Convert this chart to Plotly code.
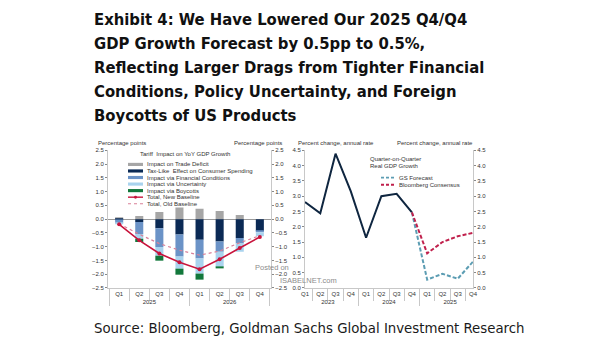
import plotly.graph_objects as go

W, H = 605, 341

# ---- data -------------------------------------------------------------
quarters = ["Q1", "Q2", "Q3", "Q4"]

# Tariff impact on YoY GDP growth (percentage points)
tariff_years = ["2025"] * 4 + ["2026"] * 4
tariff_qtrs = quarters * 2
trade_deficit = [0.04, 0.11, 0.26, 0.42, 0.38, 0.30, 0.15, 0.0]
tax_like = [-0.01, -0.10, -0.33, -0.56, -0.75, -0.81, -0.69, -0.44]
financial = [-0.14, -0.44, -0.68, -0.80, -0.68, -0.38, -0.20, -0.04]
uncertainty = [-0.03, -0.17, -0.32, -0.44, -0.55, -0.54, -0.30, -0.14]
boycotts = [0.0, -0.12, -0.18, -0.22, -0.22, -0.06, 0.0, 0.0]
total_new = [-0.19, -0.77, -1.25, -1.57, -1.82, -1.46, -1.05, -0.65]
total_old = [-0.17, -0.55, -0.89, -1.13, -1.31, -1.16, -0.86, -0.60]

# Quarter-on-quarter real GDP growth (percent change, annual rate)
gdp_years = ["2023"] * 4 + ["2024"] * 4
gdp_qtrs = quarters * 2
gdp_actual = [2.81, 2.44, 4.39, 3.16, 1.64, 3.00, 3.08, 2.47]
fc_years = ["2024"] + ["2025"] * 4
fc_qtrs = ["Q4"] + quarters
gs_forecast = [2.47, 0.27, 0.46, 0.30, 0.86]
bbg_consensus = [2.47, 1.13, 1.50, 1.69, 1.80]

# ---- styling ----------------------------------------------------------
C_GRAY = "#a6a6a6"
C_NAVY = "#0b2a55"
C_FIN = "#6b93c7"
C_UNC = "#a9d3ee"
C_BOY = "#12783b"
C_NEW = "#c8143c"
C_OLD = "#d98098"
C_ACT = "#0f2640"
C_GS = "#5c9db3"
C_BBG = "#c0204c"
AXC = "#c8c8c8"
TXT = "#333333"
SMALL = "Liberation Sans"
HEAD = "DejaVu Sans Condensed"


def px(x):
    return x / W


def py(y):
    return 1 - y / H


fig = go.Figure()

xl = [tariff_years, tariff_qtrs]
bar_series = [
    ("Impact on Trade Deficit", trade_deficit, C_GRAY),
    ("Tax-Like Effect on Consumer Spending", tax_like, C_NAVY),
    ("Impact via Financial Conditions", financial, C_FIN),
    ("Impact via Uncertainty", uncertainty, C_UNC),
    ("Impact via Boycotts", boycotts, C_BOY),
]
for name, vals, col in bar_series:
    fig.add_trace(go.Bar(x=xl, y=vals, name=name, marker=dict(color=col, line=dict(width=0)),
                         xaxis="x", yaxis="y", showlegend=False))

fig.add_trace(go.Scatter(x=xl, y=total_old, mode="lines", name="Total, Old Baseline",
                         line=dict(color=C_OLD, width=1.2, dash="dot"),
                         xaxis="x", yaxis="y", showlegend=False))
fig.add_trace(go.Scatter(x=xl, y=total_new, mode="lines+markers", name="Total, New Baseline",
                         line=dict(color=C_NEW, width=1.6), marker=dict(size=4, color=C_NEW),
                         xaxis="x", yaxis="y", showlegend=False))
# right-hand mirror scale of the tariff panel
fig.add_trace(go.Scatter(x=xl, y=total_new, mode="lines", line=dict(width=0),
                         hoverinfo="skip", opacity=0, xaxis="x", yaxis="y2", showlegend=False))

xr = [gdp_years, gdp_qtrs]
xf = [fc_years, fc_qtrs]
fig.add_trace(go.Scatter(x=xr, y=gdp_actual, mode="lines", name="Actual",
                         line=dict(color=C_ACT, width=2), xaxis="x2", yaxis="y3", showlegend=False))
fig.add_trace(go.Scatter(x=xf, y=gs_forecast, mode="lines", name="GS Forecast",
                         line=dict(color=C_GS, width=2, dash="4px,2px"),
                         xaxis="x2", yaxis="y3", showlegend=False))
fig.add_trace(go.Scatter(x=xf, y=bbg_consensus, mode="lines", name="Bloomberg Consensus",
                         line=dict(color=C_BBG, width=2, dash="4px,2px"),
                         xaxis="x2", yaxis="y3", showlegend=False))
fig.add_trace(go.Scatter(x=xf, y=bbg_consensus, mode="lines", line=dict(width=0),
                         hoverinfo="skip", opacity=0, xaxis="x2", yaxis="y4", showlegend=False))

tick_font = dict(family=SMALL, size=6, color=TXT)
common_x = dict(type="multicategory", showline=True, linecolor=AXC, linewidth=1,
                ticks="outside", tickson="boundaries", ticklen=12, tickcolor=AXC,
                tickangle=0, showdividers=True, dividercolor=AXC, dividerwidth=1,
                tickfont=tick_font, showgrid=False, zeroline=False, fixedrange=True)
common_y = dict(showgrid=False, showline=True, linecolor=AXC, linewidth=1,
                ticks="outside", ticklen=2, tickcolor="#888888", tickfont=tick_font,
                tickformat=".1f", dtick=0.5, fixedrange=True)

ydom = [py(290), py(150)]
fig.update_layout(
    width=W, height=H,
    margin=dict(l=0, r=0, t=0, b=0),
    paper_bgcolor="white", plot_bgcolor="white",
    barmode="relative", bargap=0.6,
    xaxis=dict(domain=[px(108), px(271)], anchor="y", **common_x),
    yaxis=dict(domain=ydom, range=[-2.5, 2.5], zeroline=True, zerolinecolor="#9a9a9a",
               zerolinewidth=1, anchor="x", **common_y),
    yaxis2=dict(overlaying="y", side="right", range=[-2.5, 2.5], zeroline=False,
                anchor="x", **common_y),
    xaxis2=dict(domain=[px(305), px(473)], anchor="y3", **common_x),
    yaxis3=dict(domain=ydom, range=[0, 4.5], zeroline=False, anchor="x2", **common_y),
    yaxis4=dict(overlaying="y3", side="right", range=[0, 4.5], zeroline=False,
                anchor="x2", **common_y),
)

ann = []
shapes = []


def text(x, y, s, size=6, xanchor="left", color=TXT, family=SMALL):
    ann.append(dict(x=px(x), y=py(y), xref="paper", yref="paper", text=s, showarrow=False,
                    xanchor=xanchor, yanchor="middle",
                    font=dict(family=family, size=size, color=color)))


# headline
title_lines = [
    "Exhibit 4: We Have Lowered Our 2025 Q4/Q4",
    "GDP Growth Forecast by 0.5pp to 0.5%,",
    "Reflecting Larger Drags from Tighter Financial",
    "Conditions, Policy Uncertainty, and Foreign",
    "Boycotts of US Products",
]
for i, line in enumerate(title_lines):
    text(92, 17 + 24.4 * i, "<b>" + line + "</b>", size=16.5, family=HEAD, color="#111111")

text(92, 330, "Source: Bloomberg, Goldman Sachs Global Investment Research", size=14.8,
     family=HEAD, color="#1a1a1a")

# axis captions
text(96, 142, "Percentage points")
text(284, 142, "Percentage points", xanchor="right")
text(296, 142, "Percent change, annual rate")
text(475, 142, "Percent change, annual rate", xanchor="right")

# tariff panel legend
text(185, 154, "Tariff  Impact on YoY GDP Growth", xanchor="center")
leg = [
    ("Impact on Trade Deficit", "bar", C_GRAY),
    ("Tax-Like  Effect on Consumer Spending", "bar", C_NAVY),
    ("Impact via Financial Conditions", "bar", C_FIN),
    ("Impact via Uncertainty", "bar", C_UNC),
    ("Impact via Boycotts", "bar", C_BOY),
    ("Total, New Baseline", "line", C_NEW),
    ("Total, Old Baseline", "dot", C_OLD),
]
for i, (lab, kind, col) in enumerate(leg):
    yy = 164.3 + 6.67 * i
    if kind == "bar":
        shapes.append(dict(type="rect", xref="paper", yref="paper", x0=px(128), x1=px(143),
                           y0=py(yy + 1.6), y1=py(yy - 1.6), fillcolor=col, line=dict(width=0)))
    elif kind == "line":
        shapes.append(dict(type="line", xref="paper", yref="paper", x0=px(128), x1=px(143),
                           y0=py(yy), y1=py(yy), line=dict(color=col, width=1.4)))
        shapes.append(dict(type="circle", xref="paper", yref="paper", x0=px(134), x1=px(137),
                           y0=py(yy + 1.5), y1=py(yy - 1.5), fillcolor=col, line=dict(width=0)))
    else:
        shapes.append(dict(type="line", xref="paper", yref="paper", x0=px(128), x1=px(143),
                           y0=py(yy), y1=py(yy), line=dict(color=col, width=1.1, dash="dot")))
    text(145, yy, lab)

# GDP panel labels and legend
text(368, 159, "Quarter-on-Quarter")
text(368, 166, "Real GDP Growth")
for i, (lab, col) in enumerate([("GS Forecast", C_GS), ("Bloomberg Consensus", C_BBG)]):
    yy = 177.7 + 7.3 * i
    shapes.append(dict(type="line", xref="paper", yref="paper", x0=px(381), x1=px(395),
                       y0=py(yy), y1=py(yy), line=dict(color=col, width=1.8, dash="3px,2px")))
    text(397, yy, lab)

# site watermark
text(253, 268.8, "Posted on", size=7.5, color="#8c8c8c")
text(278, 282.5, "ISABELNET.com", size=7.5, color="#8c8c8c")

fig.update_layout(annotations=ann, shapes=shapes)
fig.write_html("out.html")
